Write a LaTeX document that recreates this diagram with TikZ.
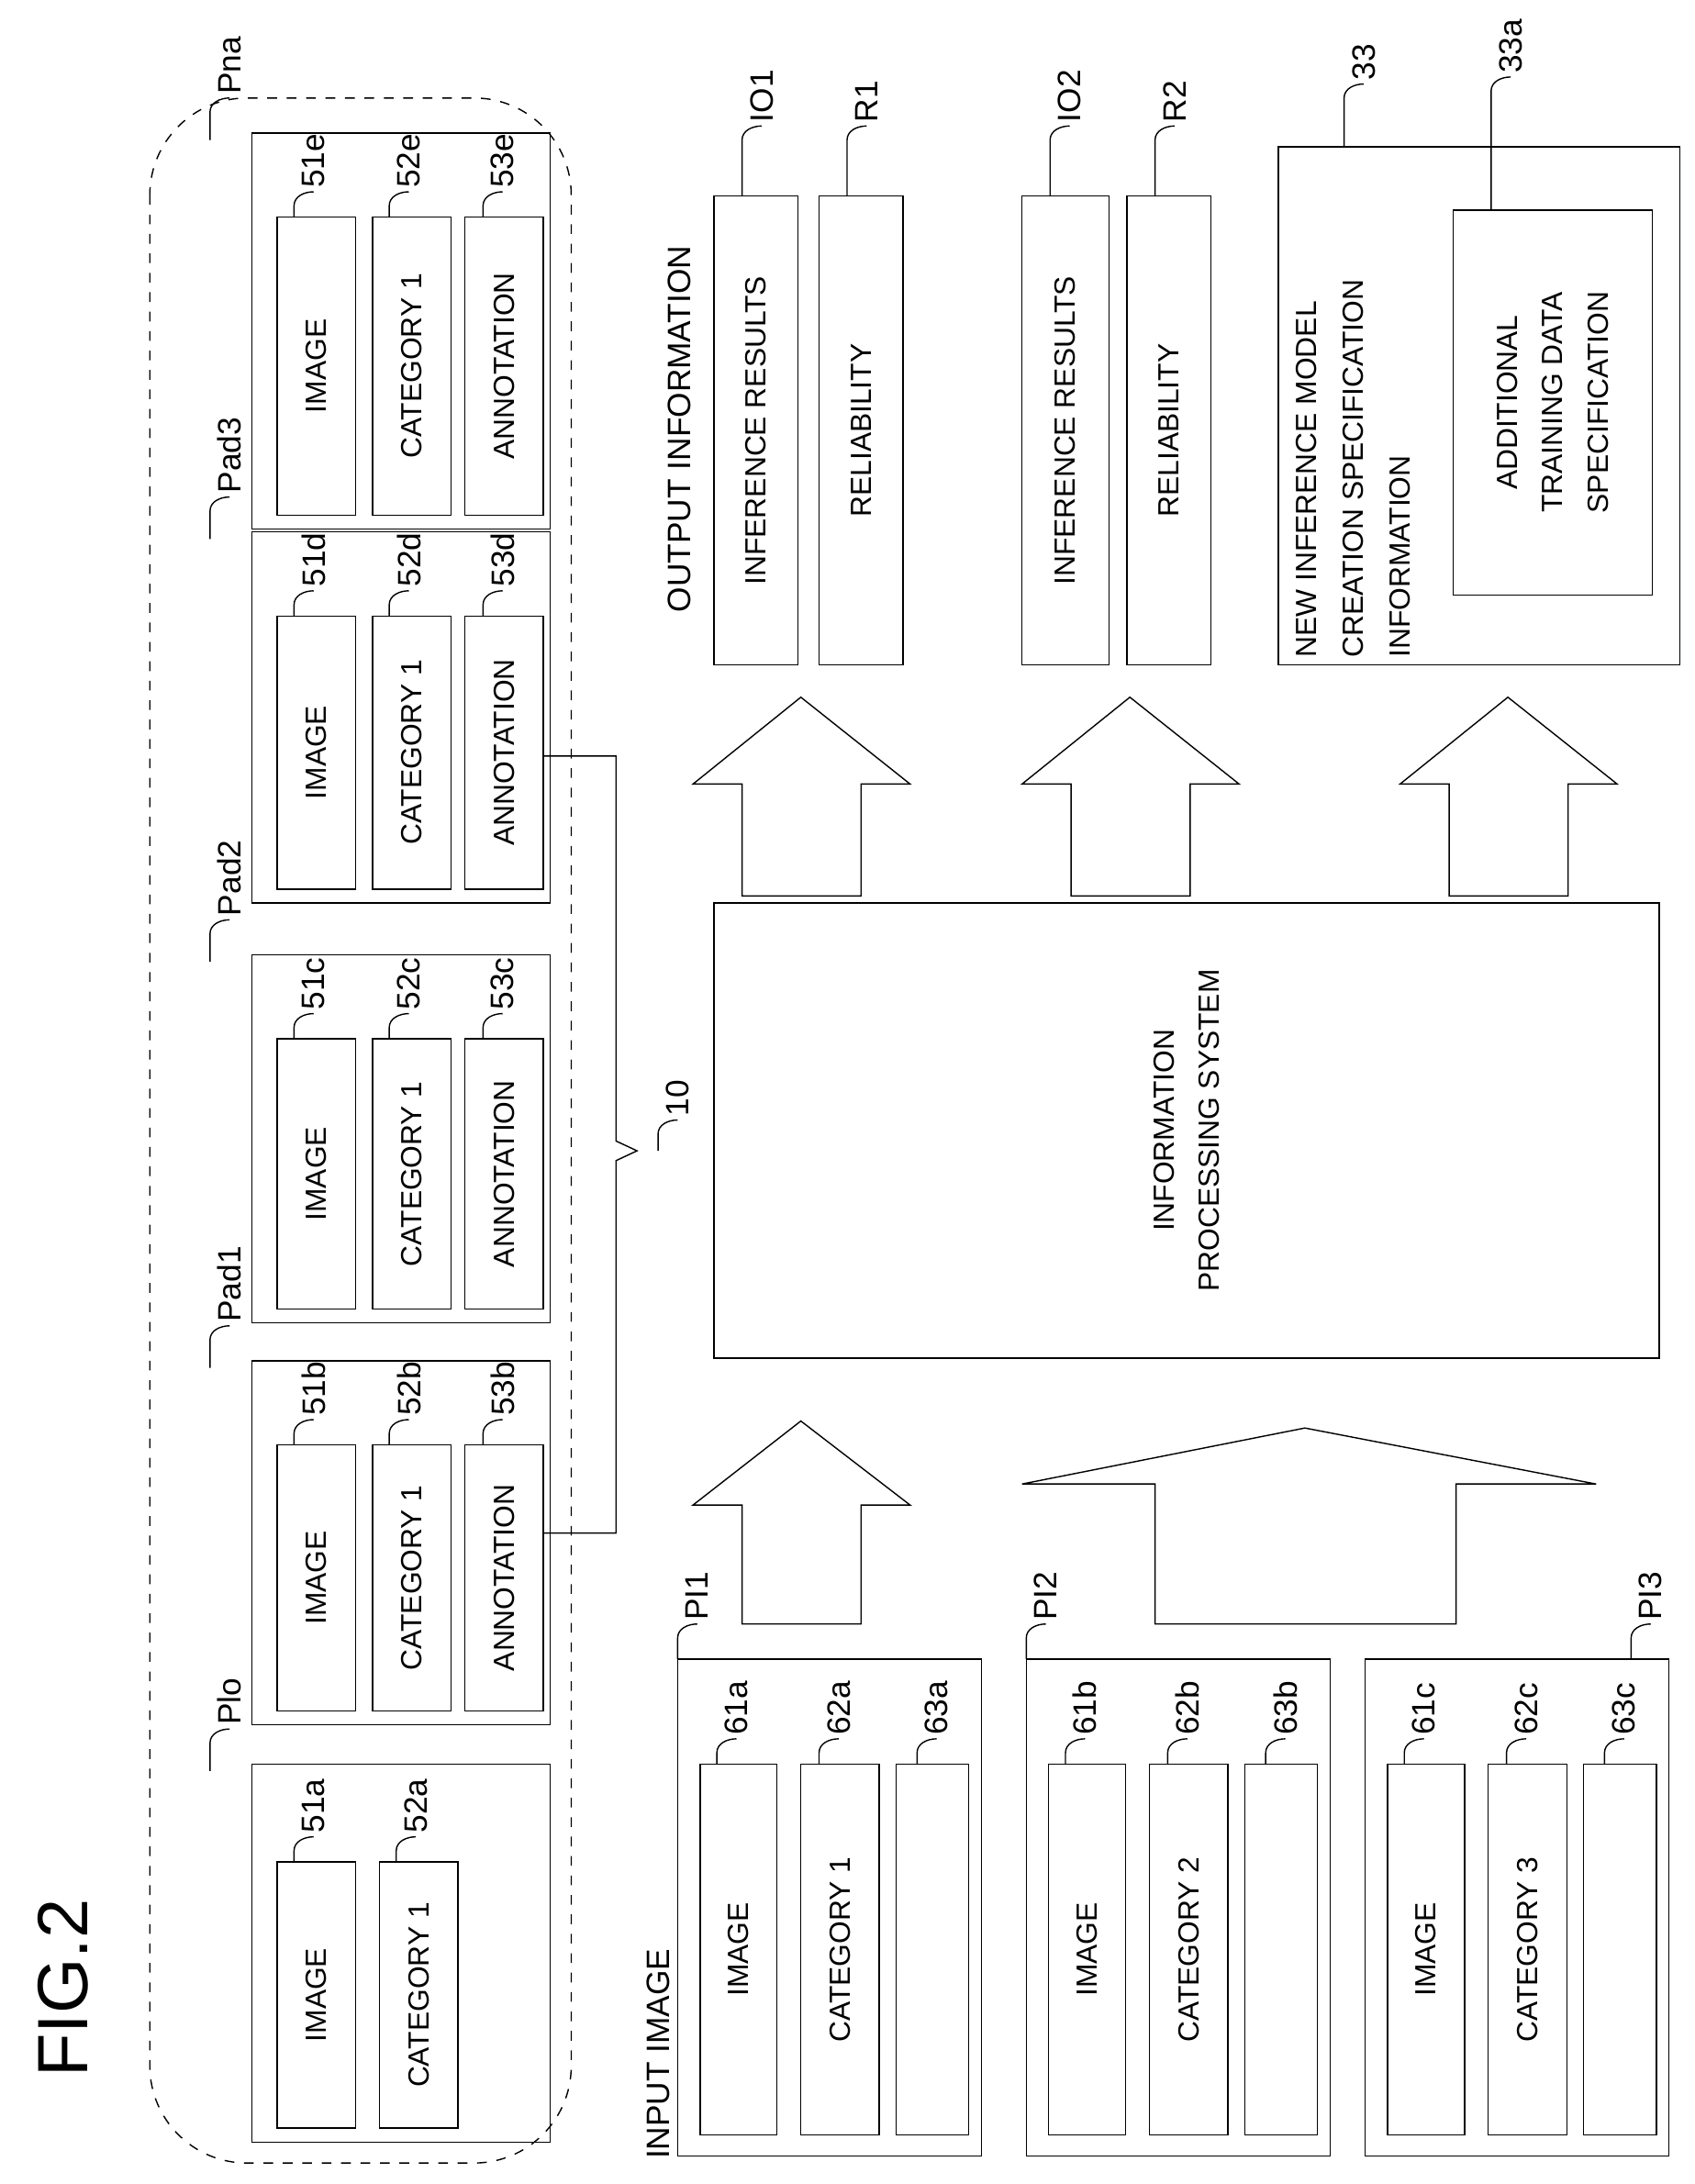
\documentclass[tikz,border=0pt]{standalone}
\usepackage{fontspec}
\setmainfont{Liberation Sans}
\usetikzlibrary{positioning}
\tikzset{
    bx/.style={draw, thin, rotate=90, inner sep=0pt, align=center, font=\fontsize{9}{14}\selectfont},
    lbl/.style={rotate=90, anchor=west, inner sep=1pt, font=\fontsize{10}{12}\selectfont},
    lead/.style={thin},
    blockarrow/.style={draw, thin, fill=white}
}
% box from (x1,y1) to (x2,y2), text rotated
\newcommand\bx[6]{\node[bx, minimum width={((#5)-(#3))*0.0152cm}, minimum height={((#4)-(#2))*0.0152cm}] (#1) at ({((#2)+(#4))/2},{((#3)+(#5))/2}) {#6};}
% leader line with label
\newcommand\lead[5]{\coordinate (#1s) at ({#2},{#3});
  \node[lbl] (#1) at ({(#2)+14},{(#3)-(#4)}) {#5};
  \draw[lead] (#1s) -- ++(0,{-(#4-10)}) to[out=90,in=180] (#1.west);}
\begin{document}
\begin{tikzpicture}[x=0.0152cm, y=-0.0152cm]
\useasboundingbox (0,0) rectangle (1210,1560);

\node[rotate=90, font=\fontsize{22}{26}\selectfont] (fig) at (45,1420) {FIG.2};

% dashed training data group
\draw[dashed, thin, rounded corners=30pt] (107,70) rectangle (408,1545);

% training data sets
\foreach \nm/\top/\bot/\s/\lb in {pna/95/378/e/Pna, pad3/380/645/d/Pad3, pad2/682/945/c/Pad2, pad1/972/1232/b/Pad1}{
  \bx{\nm}{180}{\top}{393}{\bot}{}
  \bx{\nm img}{198}{\top+60}{254}{\bot-10}{IMAGE}
  \bx{\nm cat}{266}{\top+60}{322}{\bot-10}{CATEGORY 1}
  \bx{\nm ann}{332}{\top+60}{388}{\bot-10}{ANNOTATION}
  \lead{\nm l}{150}{\top+5}{30}{\lb}
  \lead{\nm la}{210}{\top+60}{18}{51\s}
  \lead{\nm lb}{278}{\top+60}{18}{52\s}
  \lead{\nm lc}{345}{\top+60}{18}{53\s}
}
\bx{plo}{180}{1260}{393}{1530}{}
\bx{ploimg}{198}{1330}{254}{1520}{IMAGE}
\bx{plocat}{271}{1330}{327}{1520}{CATEGORY 1}
\lead{plol}{150}{1265}{30}{Plo}
\lead{plola}{210}{1330}{18}{51a}
\lead{plolb}{283}{1330}{18}{52a}

% brace to the system
\coordinate (br1) at (440,540);
\coordinate (br2) at (440,1095);
\coordinate (brt) at (455,822);
\draw[thin] (pad3ann.south |- br1) -- (br1) -- (440,815) -- (brt) -- (440,829) -- (br2) -- (pad1ann.south |- br2);
\lead{sysl}{470}{822}{22}{10}

% input images
\node[lbl] (inl) at (470,1545) {INPUT IMAGE};
\foreach \nm/\x/\c/\s in {pia/484/1/a, pib/733/2/b, pic/975/3/c}{
  \bx{\nm}{\x}{1185}{\x+217}{1540}{}
  \bx{\nm img}{\x+16}{1260}{\x+71}{1525}{IMAGE}
  \bx{\nm cat}{\x+88}{1260}{\x+144}{1525}{CATEGORY \c}
  \bx{\nm emp}{\x+156}{1260}{\x+208}{1525}{}
  \lead{\nm la}{\x+28}{1260}{18}{61\s}
  \lead{\nm lb}{\x+101}{1260}{18}{62\s}
  \lead{\nm lc}{\x+171}{1260}{18}{63\s}
}
\lead{pial}{484}{1185}{25}{PI1}
\lead{pibl}{733}{1185}{25}{PI2}
\lead{picl}{1165}{1185}{25}{PI3}

% information processing system
\bx{sys}{510}{645}{1185}{970}{INFORMATION\\PROCESSING SYSTEM}

% block arrows
\draw[blockarrow] (530,1160) -- (530,1075) -- (495,1075) -- (572,1015) -- (650,1075) -- (615,1075) -- (615,1160) -- cycle;
\draw[blockarrow] (825,1160) -- (825,1060) -- (730,1060) -- (932,1020) -- (1140,1060) -- (1040,1060) -- (1040,1160) -- cycle;
\foreach \x in {495,730,1000}{
  \draw[blockarrow] (\x+35,640) -- (\x+35,560) -- (\x,560) -- (\x+77,498) -- (\x+155,560) -- (\x+120,560) -- (\x+120,640) -- cycle;
}

% output information
\node[lbl] (outl) at (485,440) {OUTPUT INFORMATION};
\bx{infa}{510}{140}{570}{475}{INFERENCE RESULTS}
\bx{rela}{585}{140}{645}{475}{RELIABILITY}
\bx{infb}{730}{140}{792}{475}{INFERENCE RESULTS}
\bx{relb}{805}{140}{865}{475}{RELIABILITY}
\lead{infal}{530}{140}{50}{IO1}
\lead{relal}{605}{140}{50}{R1}
\lead{infbl}{750}{140}{50}{IO2}
\lead{relbl}{825}{140}{50}{R2}

% new inference model creation specification
\bx{spec}{913}{105}{1200}{475}{}
\node[rotate=90, anchor=north west, align=left, inner sep=0pt, font=\fontsize{9}{14.5}\selectfont] (spect) at (925,470) {NEW INFERENCE MODEL\\CREATION SPECIFICATION\\INFORMATION};
\bx{add}{1038}{150}{1180}{425}{ADDITIONAL\\TRAINING DATA\\SPECIFICATION}
\lead{specl}{960}{105}{45}{33}
\lead{addl}{1065}{150}{95}{33a}
\end{tikzpicture}
\end{document}
